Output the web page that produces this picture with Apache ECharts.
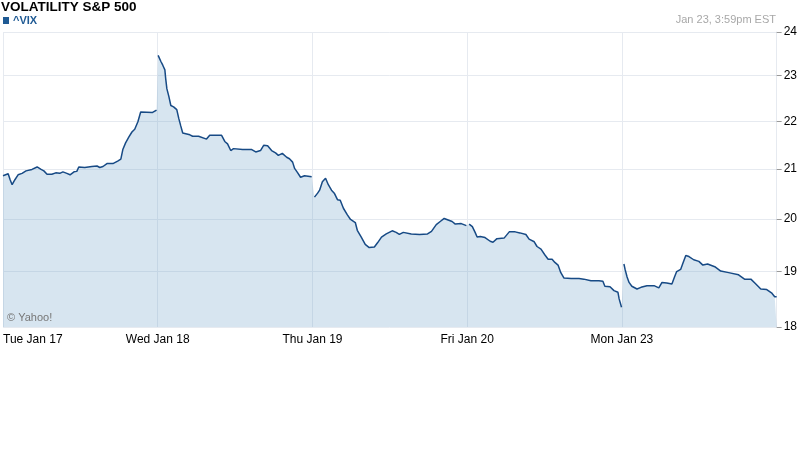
<!DOCTYPE html>
<html>
<head>
<meta charset="utf-8">
<script src="https://cdn.jsdelivr.net/npm/echarts@6/dist/echarts.min.js"></script>
<style>html,body{margin:0;padding:0;background:#fff}#c{width:800px;height:475px}</style>
</head>
<body>
<div id="c"></div>
<script>
// Trading days on the x axis (one unit = one session, 390 minutes)
const dayLabels = ['Tue Jan 17', 'Wed Jan 18', 'Thu Jan 19', 'Fri Jan 20', 'Mon Jan 23'];
const yTicks = [18, 19, 20, 21, 22, 23, 24];
// [minute of session, VIX]
const day1 = [[0,20.86],[13,20.90],[18,20.78],[23,20.68],[30,20.78],[38,20.88],[48,20.91],[58,20.96],[73,20.99],[86,21.04],[96,20.99],[103,20.96],[111,20.89],[123,20.89],[133,20.92],[143,20.91],[151,20.94],[161,20.91],[169,20.88],[179,20.94],[186,20.95],[191,21.04],[206,21.03],[224,21.05],[237,21.06],[244,21.03],[252,21.05],[262,21.11],[277,21.11],[289,21.16],[297,21.20],[302,21.40],[309,21.54],[317,21.66],[325,21.77],[332,21.83],[340,21.99],[347,22.20],[377,22.19],[387,22.24]];
const day2 = [[1,23.46],[8,23.32],[13,23.23],[18,23.13],[20,22.94],[23,22.71],[28,22.54],[33,22.34],[40,22.31],[48,22.25],[53,22.06],[58,21.90],[63,21.75],[81,21.71],[88,21.68],[103,21.68],[123,21.62],[131,21.70],[161,21.70],[169,21.57],[176,21.52],[184,21.38],[191,21.42],[214,21.40],[237,21.40],[247,21.35],[259,21.38],[267,21.49],[277,21.48],[287,21.38],[297,21.33],[304,21.28],[314,21.32],[325,21.24],[332,21.21],[340,21.14],[345,21.01],[352,20.93],[360,20.83],[370,20.86],[388,20.84]];
const day3 = [[5,20.43],[13,20.51],[18,20.57],[23,20.53],[25,20.74],[33,20.81],[35,20.84],[40,20.68],[48,20.57],[55,20.51],[63,20.38],[70,20.37],[78,20.21],[88,20.08],[96,19.99],[108,19.93],[113,19.78],[123,19.65],[133,19.51],[143,19.45],[156,19.46],[164,19.54],[174,19.65],[186,19.71],[201,19.77],[211,19.74],[219,19.70],[229,19.74],[249,19.71],[270,19.70],[290,19.71],[300,19.76],[312,19.89],[322,19.95],[332,20.01],[342,19.98],[352,19.95],[360,19.90],[375,19.91],[388,19.87]];
const day4 = [[5,19.90],[13,19.85],[20,19.74],[25,19.65],[33,19.66],[45,19.64],[50,19.66],[58,19.57],[65,19.55],[75,19.62],[93,19.63],[106,19.75],[121,19.75],[133,19.73],[148,19.70],[156,19.61],[169,19.56],[176,19.47],[186,19.42],[196,19.31],[204,19.23],[214,19.23],[221,19.17],[229,19.12],[236,18.98],[244,18.88],[262,18.87],[282,18.87],[294,18.86],[312,18.83],[332,18.83],[342,18.82],[347,18.73],[360,18.72],[370,18.65],[380,18.62],[383,18.50],[389,18.35]];
const day5 = [[5,19.14],[8,19.04],[13,18.90],[18,18.80],[25,18.73],[38,18.68],[48,18.71],[63,18.74],[81,18.74],[93,18.70],[101,18.80],[113,18.79],[126,18.77],[133,18.91],[138,19.00],[148,19.04],[153,19.14],[161,19.30],[169,19.28],[181,19.22],[194,19.19],[204,19.12],[216,19.14],[234,19.09],[249,19.01],[269,18.98],[294,18.94],[309,18.86],[325,18.86],[335,18.79],[350,18.68],[365,18.67],[377,18.61],[385,18.54],[390,18.54]];

const days = [day1, day2, day3, day4, day5];
const SESSION = 390;
const areaData = [];
const lineData = [];
days.forEach((d, i) => {
  d.forEach(p => {
    const pt = [i + p[0] / SESSION, p[1]];
    areaData.push(pt);
    lineData.push(pt);
  });
  if (i < days.length - 1) lineData.push([i + 1, null]);
});

const chart = echarts.init(document.getElementById('c'), null, {renderer: 'canvas'});
const FONT = '"Liberation Sans", Arial, sans-serif';
chart.setOption({
  animation: false,
  backgroundColor: '#fff',
  grid: {left: 3, right: 22, top: 32, bottom: 148, containLabel: false},
  xAxis: {
    type: 'value', min: 0, max: 5, interval: 1,
    axisLine: {show: false},
    axisTick: {show: false},
    axisLabel: {
      color: '#000', fontFamily: FONT, fontSize: 12, margin: 7,
      showMaxLabel: false, alignMinLabel: 'left',
      formatter: v => dayLabels[v] || ''
    },
    splitLine: {show: true, lineStyle: {color: '#e6eaf0', width: 1}}
  },
  yAxis: {
    type: 'log', logBase: Math.E, min: 18, max: 24, position: 'right',
    axisLine: {show: true, onZero: false, lineStyle: {color: '#e6eaf0'}},
    axisTick: {show: true, inside: false, length: 5, lineStyle: {color: '#999'}, customValues: yTicks},
    axisLabel: {color: '#000', fontFamily: FONT, fontSize: 12, margin: 7, verticalAlign: 'middle', customValues: yTicks, formatter: v => String(Math.round(v))},
    splitLine: {show: true, lineStyle: {color: '#e6eaf0', width: 1}}
  },
  series: [
    {
      type: 'line', data: areaData, symbol: 'none', silent: true,
      lineStyle: {width: 0, opacity: 0},
      areaStyle: {color: 'rgba(110,160,200,0.28)', opacity: 1, origin: 'start'},
      z: 2
    },
    {
      type: 'line', data: lineData, symbol: 'none', connectNulls: false, silent: true,
      lineStyle: {width: 1.5, color: '#174a85'},
      z: 3
    }
  ],
  graphic: [
    {type: 'text', left: 1, top: 0, style: {text: 'VOLATILITY S&P 500', font: 'bold 13.5px ' + FONT, fill: '#000'}},
    {type: 'rect', left: 3, top: 17, shape: {width: 6, height: 7}, style: {fill: '#1f5a94'}},
    {type: 'text', left: 13, top: 15, style: {text: '^VIX', font: 'bold 11px ' + FONT, fill: '#1f5a94'}},
    {type: 'text', right: 24, top: 14, style: {text: 'Jan 23, 3:59pm EST', font: '11px ' + FONT, fill: '#a8a8a8'}},
    {type: 'text', left: 7, top: 312, style: {text: '© Yahoo!', font: '11px ' + FONT, fill: '#777'}, z: 10}
  ]
});
</script>
</body>
</html>
